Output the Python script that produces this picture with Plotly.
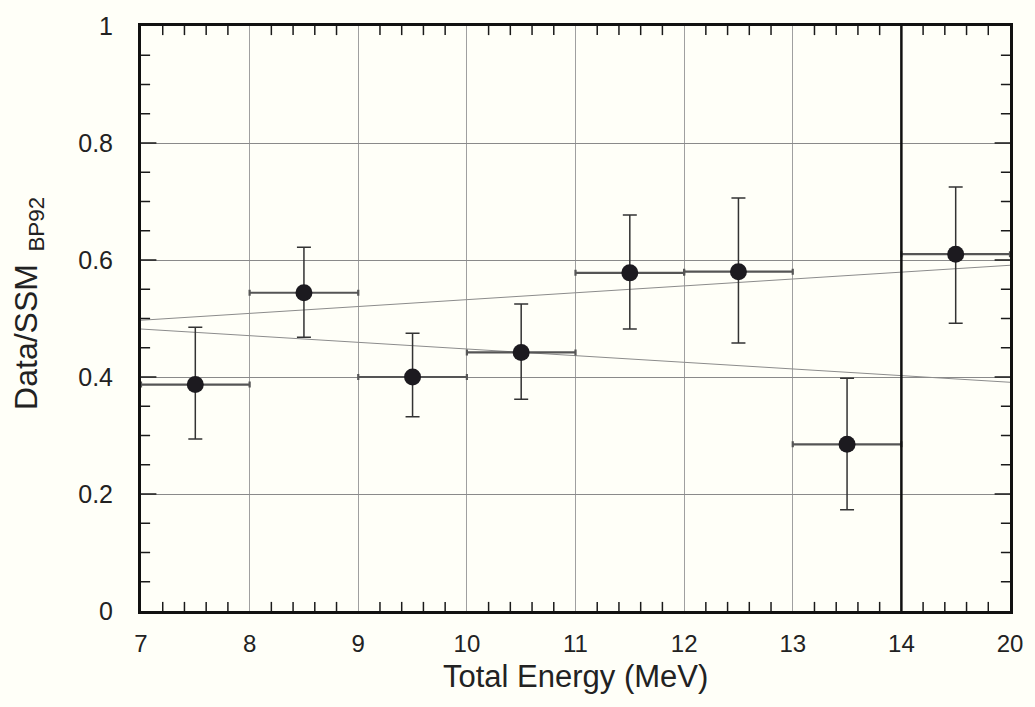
import plotly.graph_objects as go

# Energy bins (MeV); last bin 14-20 is drawn with the same width as the others
bin_labels = ["7", "8", "9", "10", "11", "12", "13", "14", "20"]
bin_pos = [7, 8, 9, 10, 11, 12, 13, 14, 15]
centers = [7.5, 8.5, 9.5, 10.5, 11.5, 12.5, 13.5, 14.5]
ratio = [0.387, 0.544, 0.400, 0.442, 0.578, 0.580, 0.285, 0.610]
ratio_hi = [0.485, 0.622, 0.475, 0.525, 0.677, 0.706, 0.398, 0.725]
ratio_lo = [0.294, 0.468, 0.332, 0.362, 0.482, 0.458, 0.173, 0.492]
half_width = [0.5] * 8

y_ticks = [0, 0.2, 0.4, 0.6, 0.8, 1]
y_tick_labels = ["0", "0.2", "0.4", "0.6", "0.8", "1"]

# two straight guide lines across the plot
line_x = [7, 15]
upper_line = [0.497, 0.591]
lower_line = [0.482, 0.391]

err_plus = [h - v for h, v in zip(ratio_hi, ratio)]
err_minus = [v - l for v, l in zip(ratio, ratio_lo)]

X0, X1 = bin_pos[0], bin_pos[-1]
x_minor = [X0 + i * 0.2 for i in range(1, 40) if i % 5 != 0]
y_minor = [i * 0.05 for i in range(1, 20) if i % 4 != 0]
y_major = y_ticks[1:-1]

FONT = "Liberation Sans, Arial, sans-serif"
TICK_COL = "#1a1a1a"

fig = go.Figure()
for ys in (upper_line, lower_line):
    fig.add_trace(go.Scatter(x=line_x, y=ys, mode="lines",
                             line=dict(color="#8c8c8c", width=1),
                             showlegend=False, hoverinfo="skip"))

# inside tick marks: line markers centred on the frame, clipped to the plot area
def tick_trace(xs, ys, symbol, size):
    fig.add_trace(go.Scatter(
        x=xs, y=ys, mode="markers", cliponaxis=True,
        marker=dict(symbol=symbol, size=size, color=TICK_COL,
                    line=dict(width=1.5, color=TICK_COL)),
        showlegend=False, hoverinfo="skip"))

tick_trace(x_minor * 2, [0] * len(x_minor) + [1] * len(x_minor), "line-ns", 13)
tick_trace([X0] * len(y_minor) + [X1] * len(y_minor), y_minor * 2, "line-ew", 13)
tick_trace([X0] * len(y_major) + [X1] * len(y_major), y_major * 2, "line-ew", 22)

fig.add_trace(go.Scatter(
    x=centers, y=ratio, mode="markers",
    marker=dict(size=17, color="#1c1a1f"),
    error_y=dict(type="data", symmetric=False, array=err_plus, arrayminus=err_minus,
                 color="#333333", thickness=1.5, width=7),
    error_x=dict(type="data", array=half_width, color="#555555", thickness=2.2, width=3),
    showlegend=False,
))

# thick boundary at 14 MeV
fig.add_shape(type="line", x0=14, x1=14, y0=0, y1=1, xref="x", yref="y",
              line=dict(color="#111111", width=2.5))

fig.update_xaxes(
    range=[X0, X1], tickmode="array", tickvals=bin_pos, ticktext=bin_labels,
    showgrid=True, gridcolor="#a0a0a0", gridwidth=1,
    showline=True, linecolor="#111111", linewidth=3, mirror=True,
    ticks="", tickfont=dict(family=FONT, size=24, color="#222222"),
    ticklabelstandoff=9, zeroline=False,
)
fig.update_yaxes(
    range=[0, 1], tickmode="array", tickvals=y_ticks, ticktext=y_tick_labels,
    showgrid=True, gridcolor="#8a8a8a", gridwidth=1,
    showline=True, linecolor="#111111", linewidth=3, mirror=True,
    ticks="", tickfont=dict(family=FONT, size=25, color="#222222"),
    ticklabelstandoff=20, zeroline=False,
)

fig.add_annotation(text="Total Energy (MeV)", xref="paper", yref="paper",
                   x=0.5, y=0, yshift=-85, showarrow=False, xanchor="center", yanchor="bottom",
                   font=dict(family=FONT, size=31, color="#222222"))
fig.add_annotation(text="Data/SSM<sub>&nbsp;&nbsp;BP92</sub>", xref="paper", yref="paper",
                   x=0, xshift=-112, y=0.525, textangle=-90, showarrow=False,
                   xanchor="center", yanchor="middle",
                   font=dict(family=FONT, size=32, color="#222222"))

fig.update_layout(
    width=1035, height=707,
    margin=dict(l=141, r=17, t=25, b=96),
    paper_bgcolor="#fffff8", plot_bgcolor="#fffff8",
)

fig.write_html("out.html")
